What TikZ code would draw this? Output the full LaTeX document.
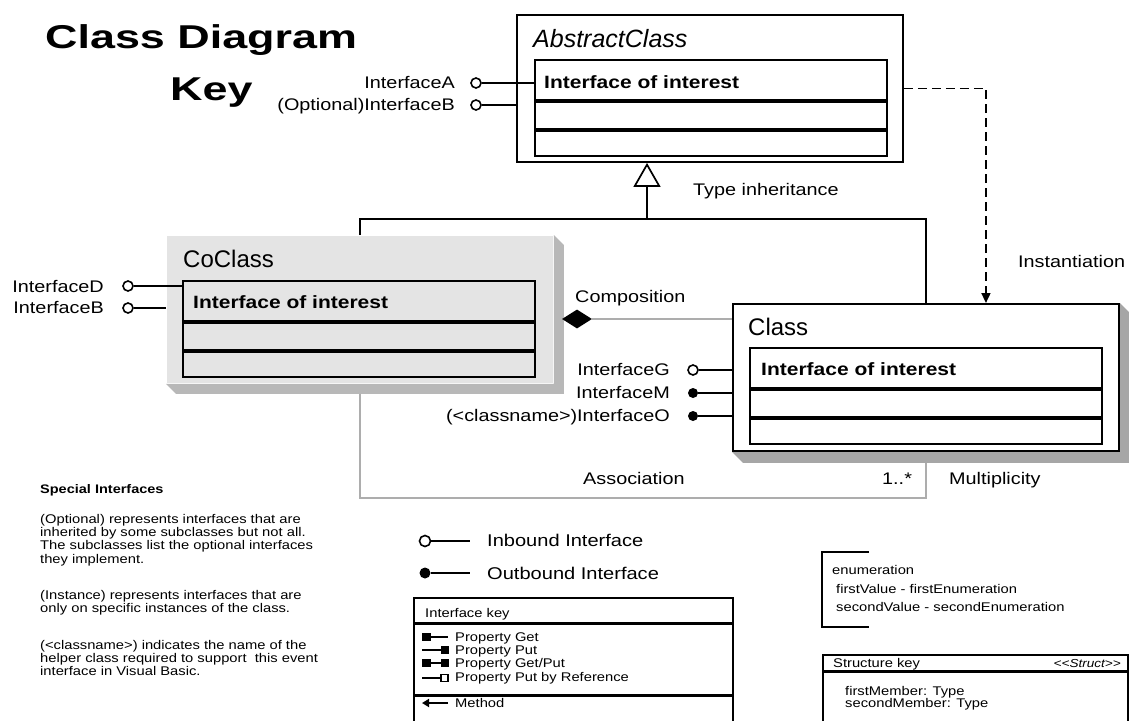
\documentclass[tikz,border=0pt]{standalone}
\usepackage{fontspec}
\setmainfont{Liberation Sans}
\newfontfamily\lblfont{Liberation Sans}[FakeStretch=1.18]
\newfontfamily\notefont{Liberation Sans}[FakeStretch=1.17]
\newfontfamily\ttlfont{Liberation Sans}[FakeStretch=1.36]
\usetikzlibrary{arrows.meta,backgrounds,positioning,shapes.geometric}
\definecolor{cogray}{HTML}{E4E4E4}
\definecolor{shadegray}{HTML}{B8B8B8}
\definecolor{clsshade}{HTML}{A6A6A6}
\definecolor{linkgray}{HTML}{ADADAD}

\begin{document}
\begin{tikzpicture}[x=1pt, y=-1pt,
  outer/.style={rectangle, draw, line width=1.9pt, minimum width=386pt, minimum height=147pt, inner sep=0pt, anchor=north west},
  row/.style={rectangle, draw, line width=1.9pt, minimum width=352pt, inner sep=0pt},
  keyrow/.style={rectangle, draw, line width=1.5pt, inner sep=0pt},
  ttl/.style={font=\ttlfont\bfseries\fontsize{33}{38}\selectfont, anchor=base west, inner sep=0pt},
  cname/.style={font=\fontsize{24}{28}\selectfont, anchor=base west, inner sep=0pt},
  ioi/.style={font=\lblfont\bfseries\fontsize{17.8}{20}\selectfont, anchor=base west, inner sep=0pt},
  lbl/.style={font=\lblfont\fontsize{16.8}{19}\selectfont, inner sep=0pt},
  note/.style={font=\notefont\fontsize{12.6}{13.3}\selectfont, inner sep=0pt, align=left},
  inb/.style={circle, draw, line width=1.6pt, fill=white, minimum size=10pt, inner sep=0pt},
  outb/.style={circle, fill=black, minimum size=10pt, inner sep=0pt},
  wire/.style={line width=1.7pt},
  assoc/.style={line width=1.4pt, linkgray},
  inst/.style={line width=1.7pt, dash pattern=on 9pt off 5pt, -{Triangle[length=10pt, width=9pt]}},
  icon/.style={line width=2.2pt}
]
\useasboundingbox (0,0) rectangle (1129,720);

\node[ttl] (title) at (45,48) {Class Diagram};
\node[ttl] (titlekey) at (170,100) {Key};

% abstract class
\node[outer] (abs) at (516,14) {};
\node[cname, font=\itshape\fontsize{25}{28}\selectfont] (absn) at (533,47) {AbstractClass};
\node[row, minimum height=40pt, anchor=north west] (absh) at ([shift={(18,45)}]abs.north west) {};
\node[row, minimum height=27pt, below=0pt of absh] (absm) {};
\node[row, minimum height=25pt, below=0pt of absm] (absl) {};
\node[ioi] (absi) at ([shift={(10,29)}]absh.north west) {Interface of interest};

\node[inb] (ia) at (476,83) {};
\node[inb] (ib) at (476,105) {};
\draw[wire] (ia) -- (ia -| absh.west);
\draw[wire] (ib) -- (ib -| abs.west);
\node[lbl, anchor=base east] (ial) at (455,88) {InterfaceA};
\node[lbl, anchor=base east] (ibl) at (455,110) {(Optional)InterfaceB};

% coclass
\node[outer, fill=cogray, draw=none] (cc) at (166,235) {};
\node[cname] (ccn) at (183,267) {CoClass};
\node[row, minimum height=40pt, anchor=north west] (cch) at ([shift={(16,45)}]cc.north west) {};
\node[row, minimum height=27pt, below=0pt of cch] (ccm) {};
\node[row, minimum height=25pt, below=0pt of ccm] (ccl) {};
\node[ioi] (cci) at ([shift={(11,28)}]cch.north west) {Interface of interest};

\node[inb] (id) at (128,286) {};
\node[inb] (ib2) at (128,308) {};
\draw[wire] (id) -- (id -| cch.west);
\draw[wire] (ib2) -- (ib2 -| cc.west);
\node[lbl, anchor=base east] (idl) at (104,292) {InterfaceD};
\node[lbl, anchor=base east] (ib2l) at (104,313) {InterfaceB};

% class
\node[outer, fill=white] (cls) at (732,303) {};
\node[cname] (clsn) at (748,335) {Class};
\node[row, minimum height=40pt, anchor=north west] (clsh) at ([shift={(17,44)}]cls.north west) {};
\node[row, minimum height=27pt, below=0pt of clsh] (clsm) {};
\node[row, minimum height=25pt, below=0pt of clsm] (clsl) {};
\node[ioi] (clsi) at ([shift={(12,28)}]clsh.north west) {Interface of interest};

\node[inb] (ig) at (693,370) {};
\node[outb] (im) at (693,393) {};
\node[outb] (io) at (693,416) {};
\draw[wire] (ig) -- (ig -| cls.west);
\draw[wire] (im) -- (im -| cls.west);
\draw[wire] (io) -- (io -| cls.west);
\node[lbl, anchor=base east] (igl) at (670,375) {InterfaceG};
\node[lbl, anchor=base east] (iml) at (670,398) {InterfaceM};
\node[lbl, anchor=base east] (iol) at (670,421) {(<classname>)InterfaceO};

\begin{scope}[on background layer]
\fill[shadegray] (cc.north east) -- ++(10,10) -- ([shift={(10,10)}]cc.south east) -- ([shift={(10,10)}]cc.south west) -- (cc.south west) -- (cc.south east) -- cycle;
\fill[clsshade] (cls.north east) -- ++(11,11) -- ([shift={(11,11)}]cls.south east) -- ([shift={(11,11)}]cls.south west) -- (cls.south west) -- (cls.south east) -- cycle;
\draw[assoc] ([yshift=-10pt]cc.south) |- ([yshift=-46pt]cls.south) -- ([yshift=-11pt]cls.south);
\end{scope}

% relations
\coordinate (inh) at (647,219);
\draw[wire, -{Triangle[open, length=24pt, width=27pt]}] (inh) -- (inh |- abs.south);
\draw[wire] (cc.north) |- (inh) -| (cls.north);
\node[lbl, anchor=base west] (inhl) at (693,195) {Type inheritance};

\draw[inst] (abs.east) -| ([xshift=60pt]cls.north);
\node[lbl, anchor=base west] (instl) at (1018,267) {Instantiation};

\node[diamond, fill=black, minimum width=30pt, minimum height=19pt, inner sep=0pt] (comp) at (577,319) {};
\draw[line width=1.2pt, linkgray] (comp) -- (comp -| cls.west);
\node[lbl, anchor=base west] (compl) at (575,302) {Composition};

\node[lbl, anchor=base west] (ascl) at (583,484) {Association};
\node[lbl, anchor=base west] (mult) at (882,484) {1..*};
\node[lbl, anchor=base west] (multl) at (949,484) {Multiplicity};

% notes
\node[note, font=\notefont\bfseries\fontsize{12.4}{14}\selectfont, anchor=base west] (spec) at (40,493) {Special Interfaces};
\node[note, anchor=north west] (opt) at (40,514) {(Optional) represents interfaces that are\\inherited by some subclasses but not all.\\The subclasses list the optional interfaces\\they implement.};
\node[note, anchor=north west] (inst) at (40,590) {(Instance) represents interfaces that are\\only on specific instances of the class.};
\node[note, anchor=north west] (helper) at (40,640) {(<classname>) indicates the name of the\\helper class required to support\ \ this event\\interface in Visual Basic.};

% interface key
\node[inb, minimum size=11pt] (kin) at (425,541) {};
\node[outb, minimum size=11pt] (kout) at (425,573) {};
\node[lbl, font=\lblfont\fontsize{17}{19}\selectfont, anchor=base west] (kinl) at (487,546) {Inbound Interface};
\node[lbl, font=\lblfont\fontsize{17}{19}\selectfont, anchor=base west] (koutl) at (487,579) {Outbound Interface};
\draw[wire, shorten >=17pt] (kin) -- (kin -| kinl.west);
\draw[wire, shorten >=17pt] (kout) -- (kout -| koutl.west);

\node[keyrow, minimum width=319pt, minimum height=25pt, anchor=north west] (ikh) at (413,597) {};
\node[keyrow, minimum width=319pt, minimum height=70pt, below=0pt of ikh] (ikb) {};
\node[keyrow, minimum width=319pt, minimum height=27pt, below=0pt of ikb] (ikm) {};
\node[note, anchor=base west] (ikt) at (425,617) {Interface key};
\node[note, anchor=base west] (pget) at (455,641) {Property Get};
\node[note, anchor=base west] (pput) at (455,654) {Property Put};
\node[note, anchor=base west] (pgp) at (455,667) {Property Get/Put};
\node[note, anchor=base west] (pref) at (455,681) {Property Put by Reference};
\node[note, anchor=base west] (meth) at (455,707) {Method};

\fill (422,633) rectangle (431,641);
\draw[icon] (431,637) -- (448,637);
\draw[icon] (422,650) -- (441,650);
\fill (441,646) rectangle (449,654);
\fill (422,659) rectangle (431,667);
\draw[icon] (431,663) -- (441,663);
\fill (441,659) rectangle (449,667);
\draw[icon] (422,678) -- (441,678);
\draw[line width=1.4pt, fill=white] (441,674.5) rectangle (448,681.5);
\draw[icon, -{Triangle[length=7pt, width=8pt]}] (448,703) -- (422,703);

% enumeration
\coordinate (enumtl) at (869,552);
\coordinate (enumbl) at (869,627);
\draw[line width=1.6pt] (enumtl) -| (822,627) -- (enumbl);
\node[note, anchor=base west] (enum) at (832,574) {enumeration};
\node[note, anchor=base west] (enum1) at (836,593) {firstValue - firstEnumeration};
\node[note, anchor=base west] (enum2) at (836,611) {secondValue - secondEnumeration};

% structure key
\node[keyrow, minimum width=305pt, minimum height=16pt, anchor=north west] (skh) at (822,654) {};
\node[keyrow, minimum width=305pt, minimum height=60pt, below=0pt of skh] (skb) {};
\node[note, anchor=base west] (skt) at (833,667) {Structure key};
\node[note, font=\notefont\itshape\fontsize{11.6}{13}\selectfont, anchor=base east] (sks) at (1121,667) {<\kern0pt<Struct>\kern0pt>};
\node[note, font=\notefont\fontsize{12.6}{12.5}\selectfont, anchor=north west] (skm) at (845,686) {firstMember: Type\\secondMember: Type};
\end{tikzpicture}
\end{document}
